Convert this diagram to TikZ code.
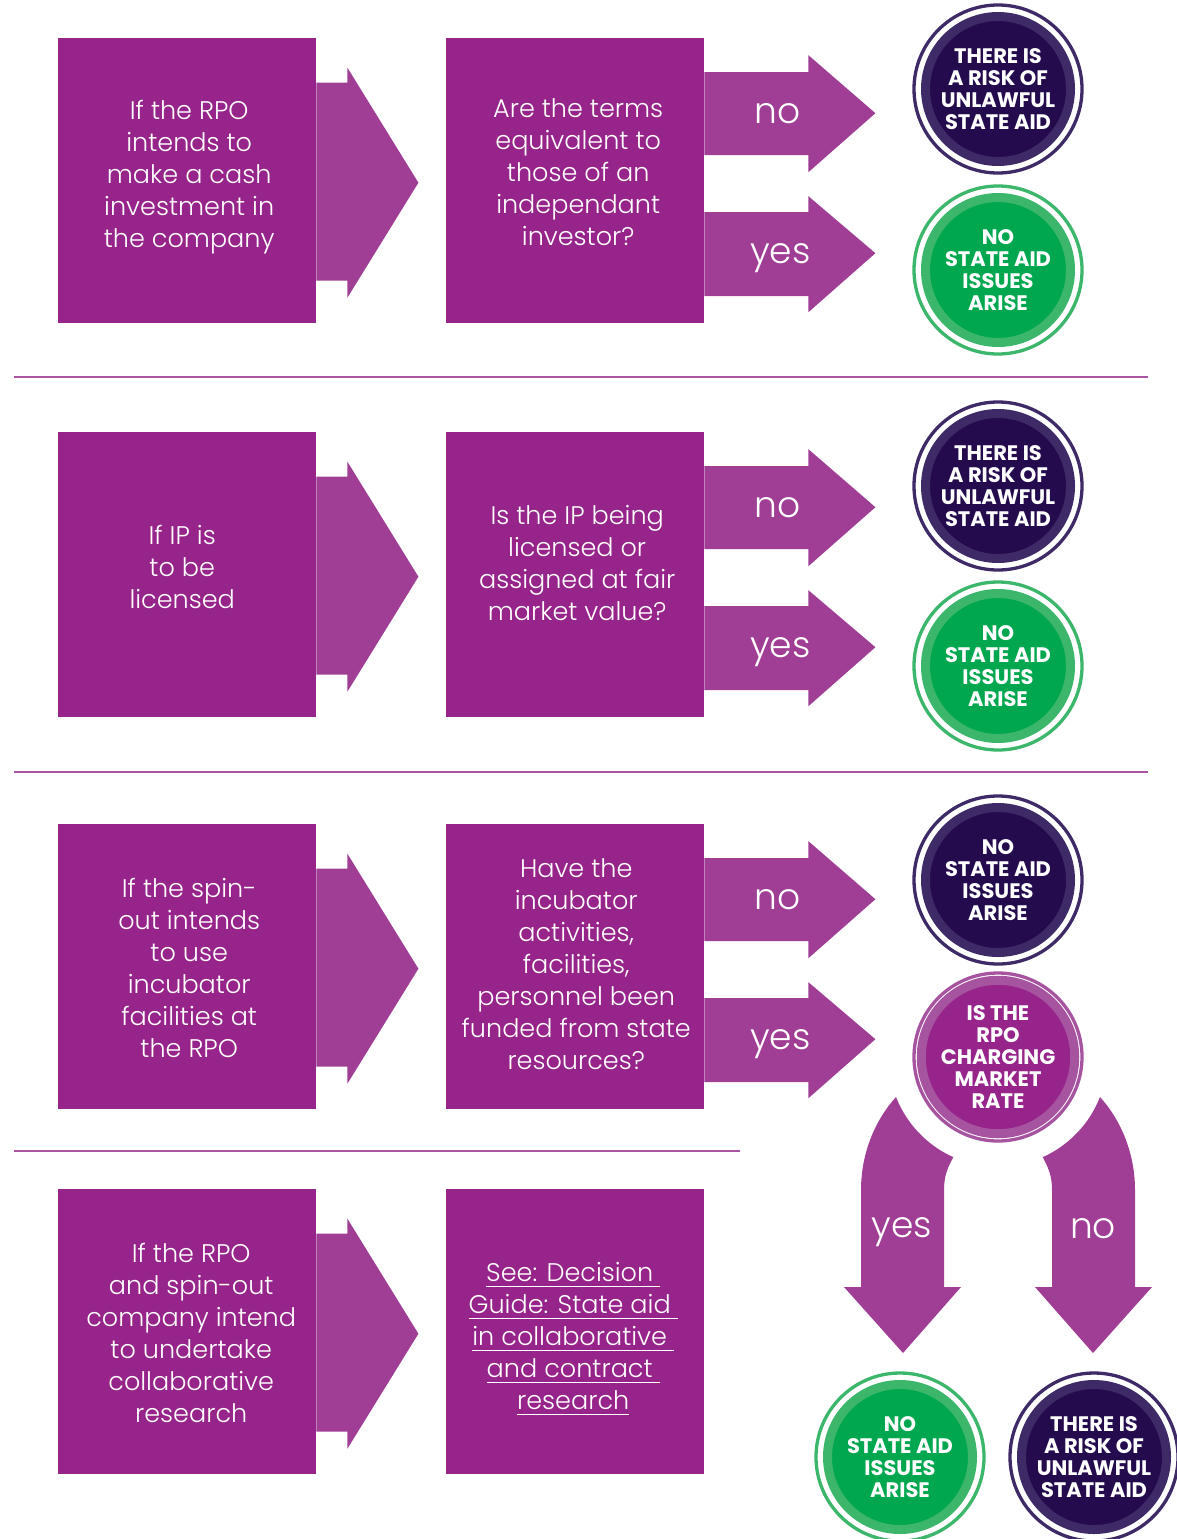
\documentclass[tikz,border=0pt]{standalone}
\usepackage{fontspec}
\setmainfont{Poppins}[UprightFont=* Light, BoldFont=* SemiBold]
\newfontfamily\circfont{Poppins}
\usetikzlibrary{calc}

\definecolor{boxc}{HTML}{97248A}
\definecolor{arrc}{HTML}{A03D95}
\definecolor{sepc}{HTML}{A955A3}
\definecolor{dkin}{HTML}{240B4D}
\definecolor{dkring}{HTML}{3E2A66}
\definecolor{gnin}{HTML}{00A74F}
\definecolor{gnring}{HTML}{3CB66B}
\definecolor{puin}{HTML}{97248A}
\definecolor{puring}{HTML}{A653A0}

\newcommand\outring[2]{\draw[#2, line width=3.3] (#1.center) circle[radius=84];}
\newcommand\ulx[1]{\setbox0\hbox{#1}\rlap{\rule[-5pt]{\wd0}{1pt}}\box0}
% box node with its text node: name, position, text offset, text
\newcommand\bx[4]{\node[box] (#1) at (#2) {};
  \node[btxt] (#1t) at ($(#1.center)+(#3)$) {#4};}

\tikzset{
  box/.style={fill=boxc, minimum width=258, minimum height=285, inner sep=0,
    anchor=north west},
  btxt/.style={text=white, align=center, inner sep=0,
    font=\fontsize{25.5}{32}\selectfont},
  lbl/.style={text=white, inner sep=0, font=\fontsize{36}{40}\selectfont},
  sepline/.style={draw=sepc, line width=1.6},
  circ/.style={circle, minimum size=145, inner sep=0, line width=9,
    text=white, align=center, font=\circfont\bfseries\fontsize{21}{22}\selectfont},
  dkc/.style={circ, fill=dkin, draw=dkring},
  gnc/.style={circ, fill=gnin, draw=gnring},
  puc/.style={circ, fill=puin, draw=puring},
  bigarrow/.pic={
    \fill[arrc] (0,-98) -- (31,-98) -- (31,-113) -- (102,2) -- (31,117)
      -- (31,100) -- (0,100) -- cycle;
  },
  yesno/.pic={
    \fill[arrc] (0,-108.5) -- (104,-108.5) -- (104,-125.5) -- (171,-67.5)
      -- (104,-8.5) -- (104,-25.5) -- (0,-25.5) -- cycle;
    \fill[arrc] (0,31.5) -- (104,31.5) -- (104,15.5) -- (171,72.5)
      -- (104,131.5) -- (104,115.5) -- (0,115.5) -- cycle;
    \node[lbl] (-no) at (73,-67.5) {no};
    \node[lbl] (-yes) at (76,77.5) {yes};
  },
  curvedarrow/.pic={
    \fill[arrc] (-102,40) arc[start angle=158.6, end angle=114.2, radius=110]
      .. controls (-53,115) and (-54,123) .. (-54,135)
      -- (-54,230) -- (-37,230) -- (-95,296) -- (-154,230) -- (-137,230)
      -- (-137,133) .. controls (-137,95) and (-122,62) .. (-102,40) -- cycle;
  }
}

\begin{document}
\begin{tikzpicture}[x=1pt, y=-1pt]
\useasboundingbox (0,0) rectangle (1177,1539);

% separators
\coordinate (s1a) at (14,377); \coordinate (s1b) at (1148,377);
\coordinate (s2a) at (14,772); \coordinate (s2b) at (1148,772);
\coordinate (s3a) at (14,1151); \coordinate (s3b) at (740,1151);
\draw[sepline] (s1a) -- (s1b);
\draw[sepline] (s2a) -- (s2b);
\draw[sepline] (s3a) -- (s3b);

% ---------- section 1
\bx{a1}{58,38}{2,-4}{If the RPO\\intends to\\make a cash\\investment in\\the company}
\bx{b1}{446,38}{3,-9}{Are the terms\\equivalent to\\those of an\\independant\\investor?}
\pic at (a1.east) {bigarrow};
\pic (p1) at (b1.east) {yesno};
\node[dkc] (c1a) at (998,89) {THERE IS\\A RISK OF\\UNLAWFUL\\STATE AID};
\outring{c1a}{dkring}
\node[gnc] (c1b) at (998,270) {NO\\STATE AID\\ISSUES\\ARISE};
\outring{c1b}{gnring}

% ---------- section 2
\bx{a2}{58,432}{-5,-8}{If IP is\\to be\\licensed}
\bx{b2}{446,432}{2,-12}{Is the IP being\\licensed or\\assigned at fair\\market value?}
\pic at (a2.east) {bigarrow};
\pic (p2) at (b2.east) {yesno};
\node[dkc] (c2a) at (998,486) {THERE IS\\A RISK OF\\UNLAWFUL\\STATE AID};
\outring{c2a}{dkring}
\node[gnc] (c2b) at (998,666) {NO\\STATE AID\\ISSUES\\ARISE};
\outring{c2b}{gnring}

% ---------- section 3
\bx{a3}{58,824}{2,1.5}{If the spin-\\out intends\\to use\\incubator\\facilities at\\the RPO}
\bx{b3}{446,824}{1,-3}{Have the\\incubator\\activities,\\facilities,\\personnel been\\funded from state\\resources?}
\pic at (a3.east) {bigarrow};
\pic (p3) at (b3.east) {yesno};
\node[dkc] (c3a) at (998,880) {NO\\STATE AID\\ISSUES\\ARISE};
\outring{c3a}{dkring}
\node[puc] (c3b) at (998,1057) {IS THE\\RPO\\CHARGING\\MARKET\\RATE};
\outring{c3b}{puring}

% curved arrows below the question circle
\pic at (c3b.center) {curvedarrow};
\pic[xscale=-1] at (c3b.center) {curvedarrow};
\node[lbl] (ly) at ($(c3b.center)+(-96,175)$) {yes};
\node[lbl] (ln) at ($(c3b.center)+(95,172)$) {no};

\node[gnc] (c4a) at (900,1457) {NO\\STATE AID\\ISSUES\\ARISE};
\outring{c4a}{gnring}
\node[dkc] (c4b) at (1094,1457) {THERE IS\\A RISK OF\\UNLAWFUL\\STATE AID};
\outring{c4b}{dkring}

% ---------- section 4
\bx{a4}{58,1189}{4,1}{If the RPO\\and spin-out\\company intend\\to undertake\\collaborative\\research}
\bx{b4}{446,1189}{-2,7}{\ulx{See: Decision\ }\\\ulx{Guide: State aid\ }\\\ulx{in collaborative\ }\\\ulx{and contract\ }\\\ulx{research}}
\pic at (a4.east) {bigarrow};
\end{tikzpicture}
\end{document}
